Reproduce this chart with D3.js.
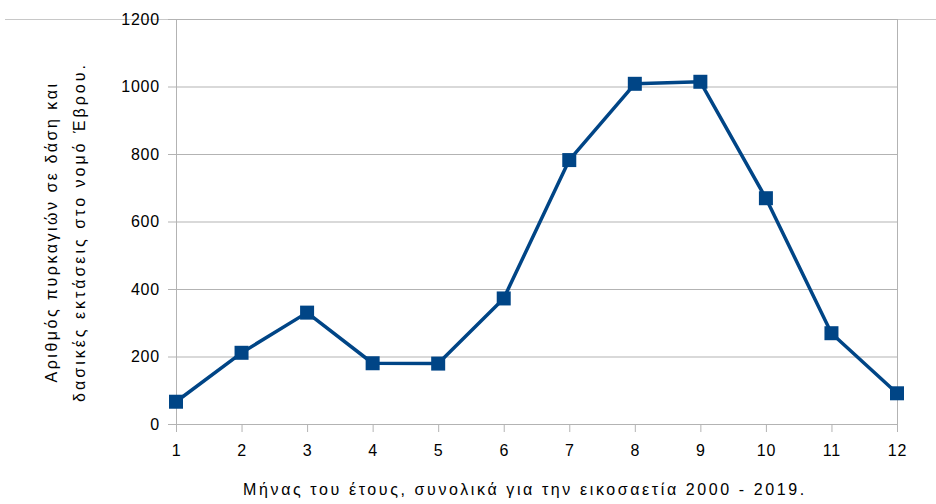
<!DOCTYPE html>
<html>
<head>
<meta charset="utf-8">
<script src="https://cdn.jsdelivr.net/npm/d3@7"></script>
<style>
  html, body { margin: 0; padding: 0; background: #fff; }
  svg { display: block; font-family: "Liberation Sans", Arial, sans-serif; }
</style>
</head>
<body>
<svg id="chart" width="936" height="504"></svg>
<script>
// Monthly totals of forest fires, Evros prefecture, 2000–2019
const months = [1, 2, 3, 4, 5, 6, 7, 8, 9, 10, 11, 12];
const fires = [66, 211, 330, 180, 179, 372, 782, 1008, 1014, 669, 269, 91];
const yTicks = [0, 200, 400, 600, 800, 1000, 1200];
const xTitle = "Μήνας του έτους, συνολικά για την εικοσαετία 2000 - 2019.";
const yTitleLines = ["Αριθμός πυρκαγιών σε δάση και", "δασικές εκτάσεις στο νομό Έβρου."];

const svg = d3.select("#chart");
const plotL = 176, plotR = 897, plotT = 19, plotB = 424;
const grid = "#b3b3b3";
const blue = "#004586";
const font = "'Liberation Sans', Arial, sans-serif";

const x = d3.scaleLinear().domain([1, 12]).range([plotL, plotR]);
const y = d3.scaleLinear().domain([0, 1200]).range([plotB, plotT]);

// thin rule across the top of the frame
svg.append("line")
  .attr("x1", 5).attr("x2", 936)
  .attr("y1", plotT + 0.5).attr("y2", plotT + 0.5)
  .attr("stroke", "#c8c8c8").attr("stroke-width", 1);

// horizontal gridlines with tick labels
const yAxis = d3.axisLeft(y).tickValues(yTicks).tickFormat(d3.format("d"))
  .tickSize(plotR - plotL + 8).tickPadding(8).tickSizeOuter(0);
const gy = svg.append("g").attr("transform", `translate(${plotR},0)`).call(yAxis);
gy.select(".domain").remove();
gy.selectAll(".tick line").attr("stroke", grid).attr("stroke-width", 1);
gy.selectAll(".tick text").attr("font-size", 16).attr("letter-spacing", 0.8)
  .attr("fill", "#000").attr("font-family", font);

// vertical frame lines
svg.append("line").attr("x1", plotL + 0.5).attr("x2", plotL + 0.5)
  .attr("y1", plotT).attr("y2", plotB).attr("stroke", grid);
svg.append("line").attr("x1", plotR + 0.5).attr("x2", plotR + 0.5)
  .attr("y1", plotT).attr("y2", plotB).attr("stroke", grid);

// x axis ticks and labels
const xAxis = d3.axisBottom(x).tickValues(months).tickSize(8).tickPadding(13).tickFormat(d3.format("d"));
const gx = svg.append("g").attr("transform", `translate(0,${plotB})`).call(xAxis);
gx.select(".domain").attr("stroke", grid).attr("d", `M${plotL},0.5H${plotR + 1}`);
gx.selectAll(".tick line").attr("stroke", grid);
gx.selectAll(".tick text").attr("font-size", 16).attr("letter-spacing", 0.8)
  .attr("fill", "#000").attr("font-family", font);

// data line
const line = d3.line().x((d, i) => x(months[i])).y(d => y(d));
svg.append("path").datum(fires)
  .attr("d", line)
  .attr("fill", "none").attr("stroke", blue).attr("stroke-width", 3.5)
  .attr("stroke-linejoin", "round");

// square markers
const m = 14;
svg.append("g").selectAll("rect").data(fires).join("rect")
  .attr("x", (d, i) => x(months[i]) - m / 2)
  .attr("y", d => y(d) - m / 2)
  .attr("width", m).attr("height", m)
  .attr("fill", blue);

// axis titles
svg.append("text")
  .attr("x", 525).attr("y", 495)
  .attr("text-anchor", "middle").attr("font-size", 16).attr("letter-spacing", 2.6)
  .attr("fill", "#000").attr("font-family", font)
  .text(xTitle);

const yt = svg.append("text")
  .attr("transform", "translate(0,232) rotate(-90)")
  .attr("text-anchor", "middle").attr("font-size", 16)
  .attr("fill", "#000").attr("font-family", font);
yt.selectAll("tspan").data(yTitleLines).join("tspan")
  .attr("x", 0).attr("y", (d, i) => 57 + i * 28)
  .attr("letter-spacing", (d, i) => i === 0 ? 2.5 : 3)
  .text(d => d);
</script>
</body>
</html>
